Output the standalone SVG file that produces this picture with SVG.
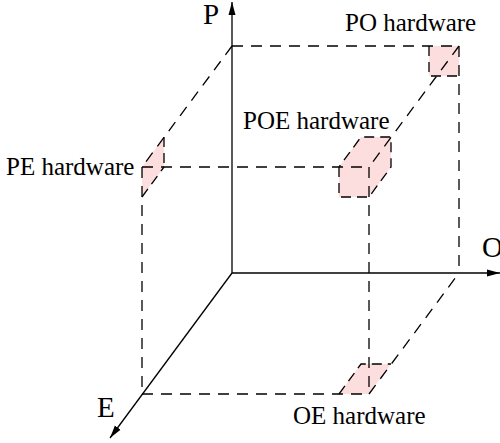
<svg xmlns="http://www.w3.org/2000/svg" width="500" height="443" viewBox="0 0 500 443">
<style>
.ax{stroke:#000;stroke-width:1.3;fill:none}
.d{stroke:#000;stroke-width:1.3;fill:none;stroke-dasharray:11,8}
.e{stroke-dasharray:10,6}
.pk{fill:#fcdede;stroke:none}
text{font-family:"Liberation Serif","Times New Roman",serif;font-size:25px;fill:#000}
.big{font-size:29px}
</style>
<defs>
<marker id="arr" markerUnits="userSpaceOnUse" markerWidth="14" markerHeight="8" refX="13" refY="4" orient="auto" viewBox="0 0 14 8">
<path d="M0,0.5 L13,4 L0,7.5 Z" fill="#000"/>
</marker>
</defs>
<rect width="500" height="443" fill="#fff"/>
<g id="patches">
<g id="po-patch"><rect class="pk" x="429" y="46" width="30" height="30"/></g>
<g id="pe-patch"><polygon class="pk" points="142,167 164,137 164,167 142,197"/></g>
<g id="oe-patch"><polygon class="pk" points="369,394 339,394 361,364 391,364"/></g>
<g id="poe-patch"><polygon class="pk" points="339,167 361,137 391,137 391,167 369,197 339,197"/></g>
</g>
<g id="connectors">
<line class="d" x1="232" y1="46" x2="459" y2="46"/>
<line class="d" x1="459" y1="46" x2="459" y2="273"/>
<line class="d" x1="232" y1="46" x2="142" y2="167"/>
<line class="d" x1="142" y1="167" x2="142" y2="394"/>
<line class="d" x1="142" y1="394" x2="369" y2="394"/>
<line class="d" x1="369" y1="394" x2="459" y2="273"/>
<line class="d" x1="142" y1="167" x2="369" y2="167"/>
<line class="d" x1="369" y1="167" x2="369" y2="394"/>
<line class="d" x1="459" y1="46" x2="369" y2="167"/>
<path class="d e" d="M429,46 V76 H459"/>
<path class="d e" d="M164,137 V167 M142,197 L164,167"/>
<path class="d e" d="M339,394 L361,364 H391"/>
<path class="d e" d="M339,167 V197 H369 L391,167 V137 H361 L339,167"/>
</g>
<g id="axes">
<line class="ax" x1="232" y1="273" x2="232" y2="2" marker-end="url(#arr)"/>
<line class="ax" x1="232" y1="273" x2="500" y2="273" marker-end="url(#arr)"/>
<line class="ax" x1="232" y1="273" x2="110" y2="438" marker-end="url(#arr)"/>
</g>
<g id="labels">
<text class="big" x="203" y="24">P</text>
<text class="big" x="482" y="257">O</text>
<text class="big" x="97" y="417">E</text>
<text x="345" y="31">PO hardware</text>
<text x="243" y="129">POE hardware</text>
<text x="6" y="175">PE hardware</text>
<text x="293" y="424">OE hardware</text>
</g>
</svg>
